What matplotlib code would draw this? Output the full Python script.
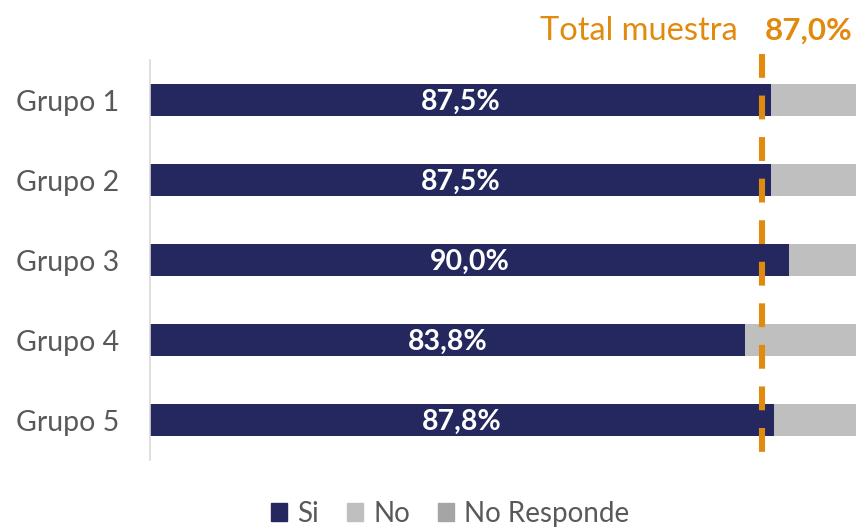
import matplotlib
matplotlib.use("Agg")
import matplotlib.pyplot as plt
from matplotlib.patches import Patch

# Data
groups = ["Grupo 1", "Grupo 2", "Grupo 3", "Grupo 4", "Grupo 5"]
si = [87.5, 87.5, 90.0, 83.8, 87.8]
no = [12.5, 12.5, 10.0, 16.2, 12.2]
no_responde = [0.0, 0.0, 0.0, 0.0, 0.0]
total_muestra = 87.0
series_names = ["Si", "No", "No Responde"]

NAVY = "#24285E"
LIGHT_GRAY = "#BFBFBF"
MID_GRAY = "#A5A5A5"
ORANGE = "#E08A0E"
TEXT_GRAY = "#595959"
FONT = ["Lato", "DejaVu Sans"]

plt.rcParams["font.family"] = FONT

fig = plt.figure(figsize=(8.56, 5.31), dpi=100)
ax = fig.add_axes([150 / 856, 1 - 460 / 531, 706 / 856, 400 / 531])

y = list(range(len(groups)))
ax.barh(y, si, height=0.4, color=NAVY, label=series_names[0])
ax.barh(y, no, left=si, height=0.4, color=LIGHT_GRAY, label=series_names[1])
left2 = [a + b for a, b in zip(si, no)]
ax.barh(y, no_responde, left=left2, height=0.4, color=MID_GRAY, label=series_names[2])

for yi, v in zip(y, si):
    ax.text(v / 2, yi + 0.02, f"{v:.1f}%".replace(".", ","), ha="center", va="center",
            color="white", fontsize=20.5, fontweight="bold")

# total sample line (drawn where it sits in the original)
line_x = 86.2
ax.plot([line_x, line_x], [-0.58, 4.56], color=ORANGE, lw=4.4,
        linestyle=(0, (3.9, 2.9)), clip_on=False, zorder=5)

fig.text(738 / 856, 1 - 31 / 531, "Total muestra", color=ORANGE, fontsize=23.5,
         ha="right", va="center")
fig.text(853 / 856, 1 - 31 / 531, f"{total_muestra:.1f}%".replace(".", ","),
         color=ORANGE, fontsize=22.5, fontweight="bold", ha="right", va="center")

ax.set_xlim(0, 99.4)
ax.set_ylim(4.5, -0.5)
ax.set_yticks(y)
ax.set_yticklabels(groups, fontsize=20.5, color=TEXT_GRAY)
ax.tick_params(axis="y", length=0, pad=22)
ax.set_xticks([])
for side in ["top", "right", "bottom"]:
    ax.spines[side].set_visible(False)
ax.spines["left"].set_color("#D9D9D9")
ax.spines["left"].set_linewidth(1.2)

handles = [Patch(color=NAVY), Patch(color=LIGHT_GRAY), Patch(color=MID_GRAY)]
fig.legend(handles, series_names, loc="center", bbox_to_anchor=(450 / 856, 1 - 514 / 531),
           ncol=3, frameon=False, fontsize=20, labelcolor=TEXT_GRAY,
           handlelength=0.6, handleheight=0.6, handletextpad=0.35, columnspacing=1.0)

fig.savefig("out.png", dpi=100)
